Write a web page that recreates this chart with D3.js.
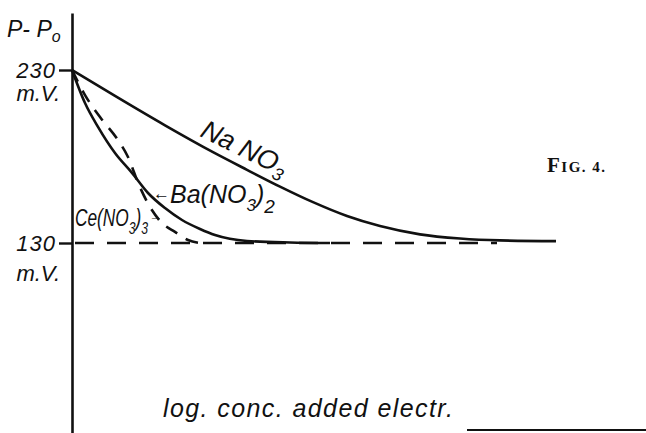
<!DOCTYPE html>
<html>
<head>
<meta charset="utf-8">
<script src="https://cdn.jsdelivr.net/npm/d3@7/dist/d3.min.js"></script>
<style>
body { margin: 0; background: #fff; }
svg { display: block; }
.hand { font-family: "Liberation Sans", Arial, sans-serif; font-style: italic; fill: #111; }
.fig { font-family: "Liberation Serif", "DejaVu Serif", serif; fill: #111; }
</style>
</head>
<body>
<div class="chart"></div>
<script>
// values; x is log. conc. in arbitrary units, y is P-Po in mV
var naX = [0, 0.86, 1.86, 2.82, 3.50, 4.16, 4.82, 5.50, 6.16, 6.96, 7.76, 8.56, 9.68];
var naY = [230, 215.0, 198.0, 182.5, 172.3, 162.6, 153.6, 145.6, 139.8, 135.0, 132.6, 131.5, 131.1];

var baX = [0, 0.26, 0.52, 0.86, 1.20, 1.52, 1.86, 2.20, 2.56, 2.86, 3.50, 4.36, 5.16];
var baY = [230, 210.9, 197.1, 182.0, 170.5, 158.9, 150.2, 143.3, 138.1, 134.6, 131.2, 130.3, 130.0];

var ceX = [0, 0.26, 0.56, 0.92, 1.12, 1.34, 1.56, 1.80, 2.06, 2.32, 2.56];
var ceY = [230, 215.5, 202.8, 189.5, 179.7, 163.5, 150.8, 141.6, 136.4, 131.7, 130.0];

var limitX = [0.06, 8.5];
var limitY = [130, 130];

var yTicks = [230, 130];
var yTickLabels = ["230", "130"];
var yUnit = "m.V.";

var width = 646, height = 433;

var svg = d3.select(".chart").append("svg")
	.attr("width", width).attr("height", height);

var x = d3.scaleLinear().domain([0, 10]).range([72, 572]);
var y = d3.scaleLinear().domain([130, 230]).range([243, 70]);

// the drawn axis runs from near the top to the bottom edge
var yAxisScale = d3.scaleLinear()
	.domain([y.invert(433), y.invert(13)])
	.range([433, 13]);

var yAxis = d3.axisLeft(yAxisScale)
	.tickValues(yTicks)
	.tickFormat(function(d, i){ return yTickLabels[i]; })
	.tickSize(13)
	.tickSizeOuter(0)
	.tickPadding(3);

var axisG = svg.append("g").attr("transform", "translate(" + x(0) + ",0)").call(yAxis);
axisG.attr("font-family", null).attr("font-size", null);
axisG.select(".domain").attr("stroke", "#111").attr("stroke-width", 2.6);
axisG.selectAll(".tick line").attr("stroke", "#111").attr("stroke-width", 2.4);
axisG.selectAll(".tick text").attr("class", "hand").attr("font-size", 22)
	.attr("fill", "#111").attr("letter-spacing", 1);
axisG.selectAll(".tick").append("text")
	.attr("class", "hand")
	.attr("font-size", 22)
	.attr("text-anchor", "end")
	.attr("x", -12)
	.attr("y", function(d, i){ return i === 0 ? 30 : 37; })
	.text(yUnit);

// P - Po
var pTitle = svg.append("text").attr("class", "hand").attr("font-size", 23)
	.attr("x", 7).attr("y", 37);
pTitle.append("tspan").text("P- P");
pTitle.append("tspan").attr("font-size", 16).attr("dy", 5).text("o");

var line = d3.line()
	.x(function(d){ return x(d[0]); })
	.y(function(d){ return y(d[1]); })
	.curve(d3.curveMonotoneX);

svg.append("path").datum(d3.zip(limitX, limitY))
	.attr("d", line).attr("fill", "none")
	.attr("stroke", "#111").attr("stroke-width", 2.6)
	.attr("stroke-dasharray", "19,13");

svg.append("path").datum(d3.zip(ceX, ceY))
	.attr("d", line).attr("fill", "none")
	.attr("stroke", "#111").attr("stroke-width", 2.6)
	.attr("stroke-dasharray", "13,10");

svg.append("path").datum(d3.zip(baX, baY))
	.attr("d", line).attr("fill", "none")
	.attr("stroke", "#111").attr("stroke-width", 2.6);

svg.append("path").datum(d3.zip(naX, naY))
	.attr("d", line).attr("fill", "none")
	.attr("stroke", "#111").attr("stroke-width", 2.6);

// curve labels
var naLabel = svg.append("text").attr("class", "hand").attr("font-size", 27)
	.attr("transform", "translate(199,136) rotate(26)");
naLabel.append("tspan").text("Na NO");
naLabel.append("tspan").attr("font-size", 18).attr("dy", 6).text("3");

var baLabel = svg.append("text").attr("class", "hand").attr("font-size", 25)
	.attr("x", 153).attr("y", 203);
baLabel.append("tspan").attr("font-size", 17).attr("dy", -4).text("\u2190");
baLabel.append("tspan").attr("dy", 4).text("Ba(NO");
baLabel.append("tspan").attr("font-size", 17).attr("dy", 8).text("3");
baLabel.append("tspan").attr("dy", -8).text(")");
baLabel.append("tspan").attr("font-size", 19).attr("dy", 10).text("2");

var ceLabel = svg.append("text").attr("class", "hand").attr("font-size", 24)
	.attr("transform", "translate(75,226) scale(0.72,1)");
ceLabel.append("tspan").text("Ce(NO");
ceLabel.append("tspan").attr("font-size", 17).attr("dy", 8).text("3");
ceLabel.append("tspan").attr("dy", -8).text(")");
ceLabel.append("tspan").attr("font-size", 17).attr("dy", 8).text("3");
svg.append("text").attr("class", "hand").attr("font-size", 13)
	.attr("x", 149).attr("y", 221).text("\u2192");

// figure number
var fig = svg.append("text").attr("class", "fig").attr("x", 547).attr("y", 172)
	.attr("font-weight", "bold").attr("letter-spacing", 1.5);
fig.append("tspan").attr("font-size", 21).text("F");
fig.append("tspan").attr("font-size", 15).text("IG. 4.");

// x axis title and the stub of the bottom line
svg.append("text").attr("class", "hand").attr("font-size", 25)
	.attr("x", 163).attr("y", 417)
	.attr("textLength", 290).attr("lengthAdjust", "spacing")
	.text("log. conc. added electr.");

svg.append("line")
	.attr("x1", x(7.9)).attr("x2", width)
	.attr("y1", 430).attr("y2", 430)
	.attr("stroke", "#111").attr("stroke-width", 2.2);
</script>
</body>
</html>
